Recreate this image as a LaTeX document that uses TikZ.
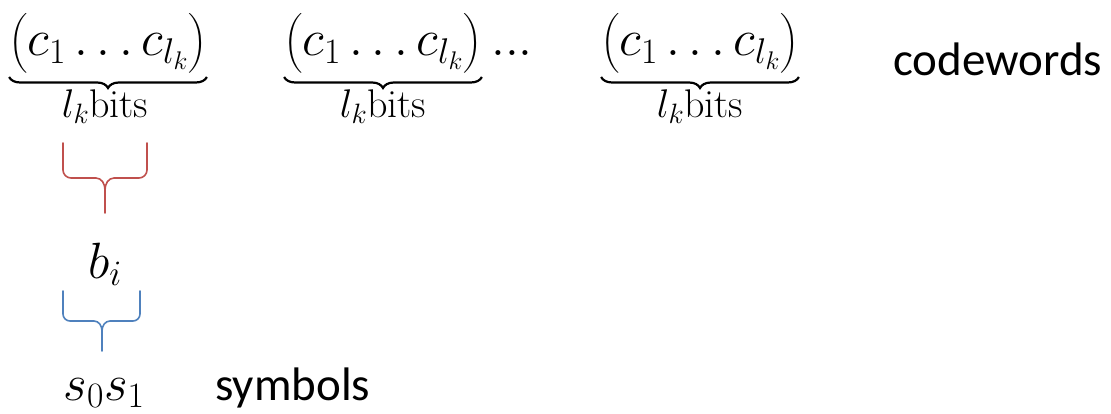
\RequirePackage{fix-cm}
\documentclass[tikz,border=0pt]{standalone}
\usepackage{amsmath}
\usepackage{fontspec}
\newfontfamily\carlito{Carlito}
\usetikzlibrary{decorations.pathreplacing}
\definecolor{bracered}{HTML}{C0504D}
\definecolor{braceblue}{HTML}{4F81BD}
\tikzset{
  mathtxt/.style={inner sep=0pt, anchor=base, font=\fontsize{51}{62}\selectfont},
  smalltxt/.style={inner sep=0pt, anchor=base, font=\fontsize{40}{46}\selectfont},
  plaintxt/.style={inner sep=0pt, anchor=base west, font=\carlito\fontsize{47}{56}\selectfont},
  bracepath/.style={line width=1.6pt, line cap=round, line join=round},
  ubrace/.style={decorate, decoration={brace, mirror, amplitude=11pt}, line width=2.2pt},
}
\newcommand{\cwtext}{$\bigl(c_1\ldots c_{l_k}\bigr)$}
\newcommand{\bitstext}{$l_k\mathrm{bits}$}
\begin{document}
\begin{tikzpicture}[x=1pt,y=-1pt]
\useasboundingbox (0,0) rectangle (1111,414);
% codewords
\node[mathtxt] (cw1) at (108,56) {\cwtext};
\node[mathtxt] (cw2) at (383,56) {\cwtext};
\node[mathtxt] (dots) at (512,56) {$...$};
\node[mathtxt] (cw3) at (700,56) {\cwtext};
\node[plaintxt] (codewords) at (893,76) {codewords};
\foreach \g/\x in {cw1/105, cw2/383, cw3/700}{
  \draw[ubrace] ([yshift=-3pt]\g.south west) -- ([yshift=-3pt]\g.south east);
  \node[smalltxt] (\g-bits) at (\x,118) {\bitstext};
}
% red brace
\draw[bracepath, bracered] (63,143) -- (63,170) to[out=-90,in=180] (71,178) -- (96,178) to[out=0,in=90] (105,190) -- (105,213);
\draw[bracepath, bracered] (147,143) -- (147,170) to[out=-90,in=0] (139,178) -- (114,178) to[out=180,in=90] (105,190);
\node[mathtxt] (bi) at (105,278) {$b_i$};
% blue brace
\draw[bracepath, braceblue] (63,291) -- (63,314) to[out=-90,in=180] (70,321) -- (94,321) to[out=0,in=90] (102,331) -- (102,351);
\draw[bracepath, braceblue] (140,291) -- (140,314) to[out=-90,in=0] (133,321) -- (110,321) to[out=180,in=90] (102,331);
\node[mathtxt] (s) at (104,400) {$s_0s_1$};
\node[plaintxt] (symbols) at (215,400) {symbols};
\end{tikzpicture}
\end{document}
